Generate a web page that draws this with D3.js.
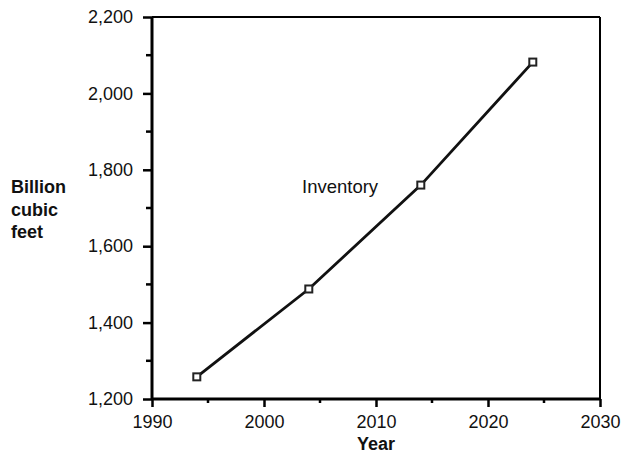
<!DOCTYPE html>
<html><head><meta charset="utf-8">
<script src="https://cdn.jsdelivr.net/npm/d3@7"></script>
<style>body{margin:0;background:#fff}svg{display:block}text{font-family:"Liberation Sans",Arial,sans-serif}</style>
</head><body><svg id="c" width="626" height="458"></svg>
<script>
const years = [1994, 2004, 2014, 2024];
const inventory = [1258, 1488, 1760, 2082];
const xTicks = [1990, 2000, 2010, 2020, 2030];
const yTicks = [1200, 1400, 1600, 1800, 2000, 2200];
const seriesLabel = "Inventory";
const xTitle = "Year";
const yTitle = ["Billion", "cubic", "feet"];

const svg = d3.select("#c");
const L = 152, R = 600, T = 17, B = 399;
const x = d3.scaleLinear().domain([1990, 2030]).range([L, R]);
const y = d3.scaleLinear().domain([1200, 2200]).range([B, T]);

// frame top/right
svg.append("line").attr("x1", L).attr("x2", R).attr("y1", T).attr("y2", T).attr("stroke", "#000").attr("stroke-width", 2);
svg.append("line").attr("x1", R).attr("x2", R).attr("y1", T).attr("y2", B).attr("stroke", "#000").attr("stroke-width", 2);

// y axis
const yMinor = d3.range(1300, 2200, 200);
const ya = svg.append("g").attr("transform", `translate(${L},0)`);
ya.call(d3.axisLeft(y).tickValues(yTicks).tickSize(9).tickPadding(10).tickFormat(d3.format(",")));
ya.select(".domain").attr("stroke-width", 3).attr("d", `M0,${T}V${B}`);
ya.selectAll(".tick line").attr("stroke-width", 2.5);
ya.selectAll(".tick text").attr("font-size", 18).attr("fill", "#111").attr("font-family", "Liberation Sans, Arial, sans-serif");
ya.selectAll(".minor").data(yMinor).enter().append("line").attr("class", "minor")
  .attr("x1", -6).attr("x2", 0).attr("y1", d => y(d)).attr("y2", d => y(d)).attr("stroke", "#000").attr("stroke-width", 2.5);

// x axis
const xMinor = d3.range(1995, 2030, 10);
const xa = svg.append("g").attr("transform", `translate(0,${B})`);
xa.call(d3.axisBottom(x).tickValues(xTicks).tickSize(8).tickPadding(8).tickFormat(d3.format("d")));
xa.select(".domain").attr("stroke-width", 3).attr("d", `M${L},0H${R}`);
xa.selectAll(".tick line").attr("stroke-width", 2.5);
xa.selectAll(".tick text").attr("font-size", 18).attr("fill", "#111").attr("font-family", "Liberation Sans, Arial, sans-serif");
xa.selectAll(".minor").data(xMinor).enter().append("line").attr("class", "minor")
  .attr("x1", d => x(d)).attr("x2", d => x(d)).attr("y1", 0).attr("y2", 4).attr("stroke", "#000").attr("stroke-width", 2.5);

// line
const pts = years.map((d, i) => [d, inventory[i]]);
svg.append("path").datum(pts).attr("fill", "none").attr("stroke", "#111").attr("stroke-width", 2.8)
  .attr("d", d3.line().x(d => x(d[0])).y(d => y(d[1])));
svg.selectAll(".mk").data(pts).enter().append("rect").attr("class", "mk")
  .attr("x", d => x(d[0]) - 3.5).attr("y", d => y(d[1]) - 3.5).attr("width", 7).attr("height", 7)
  .attr("fill", "#fff").attr("stroke", "#222").attr("stroke-width", 2);

// labels
svg.append("text").attr("x", 302).attr("y", 193).attr("font-size", 18.5).attr("fill", "#111").text(seriesLabel);
svg.append("text").attr("x", x(2010)).attr("y", 450).attr("text-anchor", "middle").attr("font-size", 18).attr("font-weight", "bold").attr("fill", "#111").text(xTitle);
svg.append("text").attr("x", 11).attr("y", 193).attr("font-size", 18).attr("font-weight", "bold").attr("fill", "#111")
  .selectAll("tspan").data(yTitle).enter().append("tspan").attr("x", 11).attr("dy", (d, i) => i ? 22.5 : 0).text(d => d);
</script></body></html>
